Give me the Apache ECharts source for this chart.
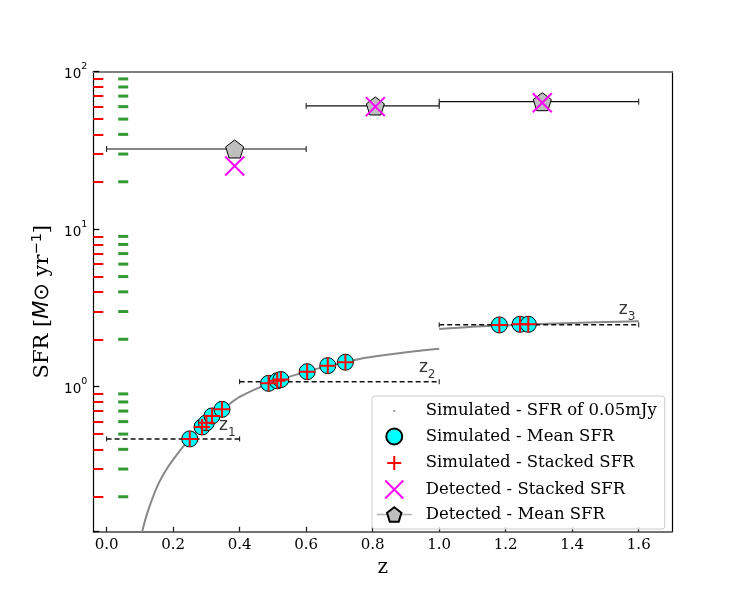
<!DOCTYPE html>
<html>
<head>
<meta charset="utf-8">
<script src="https://cdn.jsdelivr.net/npm/echarts@6/dist/echarts.min.js"></script>
<style>
html,body{margin:0;padding:0;background:#fff;}
#chart{width:747px;height:598px;}
</style>
</head>
<body>
<div id="chart"></div>
<script>
// ---- data ----
const simZLow   = [0.107, 0.122, 0.152, 0.182, 0.212, 0.25, 0.29, 0.32, 0.35, 0.40, 0.49, 0.60, 0.67, 0.72, 0.76, 0.85, 0.92, 1.00];
const simSfrLow = [0.12, 0.157, 0.232, 0.303, 0.372, 0.466, 0.56, 0.645, 0.72, 0.86, 1.05, 1.245, 1.36, 1.43, 1.50, 1.60, 1.67, 1.74];
const simZHigh   = [1.00, 1.10, 1.20, 1.30, 1.40, 1.50, 1.60];
const simSfrHigh = [2.32, 2.40, 2.45, 2.50, 2.54, 2.57, 2.60];

const meanZ    = [0.25, 0.287, 0.30, 0.317, 0.347, 0.487, 0.513, 0.524, 0.603, 0.665, 0.718, 1.181, 1.243, 1.268];
const meanSfr  = [0.466, 0.555, 0.59, 0.652, 0.718, 1.05, 1.09, 1.11, 1.245, 1.36, 1.43, 2.466, 2.49, 2.49];
const stackSfr = [0.466, 0.555, 0.59, 0.652, 0.718, 1.05, 1.09, 1.11, 1.245, 1.36, 1.43, 2.466, 2.49, 2.49];

const binLo  = [0.0, 0.4, 1.0];
const binHi  = [0.4, 1.0, 1.6];
const binSfr = [0.466, 1.076, 2.47];
const binNames = ['1', '2', '3'];
const binLabelZ   = [0.363, 0.964, 1.565];
const binLabelSfr = [0.547, 1.276, 2.98];

const detZ       = [0.385, 0.808, 1.31];
const detLo      = [0.0, 0.6, 1.0];
const detHi      = [0.6, 1.0, 1.6];
const detMean    = [32.3, 60.6, 64.5];
const detStacked = [25.2, 60.0, 63.5];

const xTicks = [0.0, 0.2, 0.4, 0.6, 0.8, 1.0, 1.2, 1.4, 1.6];
const yTicks = [1, 10, 100];
const yMinorTicks = [0.2,0.3,0.4,0.5,0.6,0.7,0.8,0.9, 2,3,4,5,6,7,8,9, 20,30,40,50,60,70,80,90];

const legendNames = ['Simulated - SFR of 0.05mJy', 'Simulated - Mean SFR', 'Simulated - Stacked SFR', 'Detected - Stacked SFR', 'Detected - Mean SFR'];

// ---- config ----
const X_MIN = -0.04, X_MAX = 1.70, Y_MIN = 0.12, Y_MAX = 100;
const FONT = 'DejaVu Serif';
const PENTAGON = 'path://M0,-1L0.951,-0.309L0.588,0.809L-0.588,0.809L-0.951,-0.309Z';
const PLUS = 'path://M0,7H14M7,0V14';
const XMARK = 'path://M0,0L14,14M14,0L0,14';

const zip = (a, b) => a.map((v, i) => [v, b[i]]);

function hbarRenderer(dashed, cap, color, width) {
  return function (params, api) {
    const y = api.value(2);
    const p0 = api.coord([api.value(0), y]);
    const p1 = api.coord([api.value(1), y]);
    return {
      type: 'group',
      children: [
        {type: 'line', shape: {x1: p0[0], y1: p0[1], x2: p1[0], y2: p1[1]},
         style: {stroke: color, lineWidth: width, lineDash: dashed ? [5, 3] : null}},
        {type: 'line', shape: {x1: p0[0], y1: p0[1] - cap, x2: p0[0], y2: p0[1] + cap},
         style: {stroke: color, lineWidth: 1}},
        {type: 'line', shape: {x1: p1[0], y1: p1[1] - cap, x2: p1[0], y2: p1[1] + cap},
         style: {stroke: color, lineWidth: 1}}
      ]
    };
  };
}

const chart = echarts.init(document.getElementById('chart'), null, {renderer: 'canvas'});
const option = {
  animation: false,
  backgroundColor: '#ffffff',
  textStyle: {fontFamily: FONT},
  grid: {left: 93.3, top: 71.7, right: 75, bottom: 66.3, containLabel: false},
  legend: {
    orient: 'vertical', left: 372, top: 396,
    padding: [6, 8, 6, 4], itemGap: 6.5, itemWidth: 35, itemHeight: 18,
    backgroundColor: 'rgba(255,255,255,0.8)', borderColor: '#cccccc', borderWidth: 1, borderRadius: 3,
    selectedMode: false,
    textStyle: {fontFamily: FONT, fontSize: 16.5, color: '#000', padding: [0, 0, 0, 9]},
    data: [
      {name: legendNames[0], icon: 'path://M-10,-10M10,10M-1.2,0a1.2,1.2 0 1,0 2.4,0a1.2,1.2 0 1,0 -2.4,0z',
       itemStyle: {color: '#888888', borderWidth: 0}},
      {name: legendNames[1], icon: 'path://M-1,-1M17,17M0,8a8,8 0 1,0 16,0a8,8 0 1,0 -16,0z'},
      {name: legendNames[2], icon: 'path://M-2,-2M16,16M0,7H14M7,0V14'},
      {name: legendNames[3], icon: 'path://M0,0L16,16M16,0L0,16'},
      {name: legendNames[4], lineStyle: {opacity: 1, width: 1.5, color: '#b5b5b5', type: 'solid'}}
    ]
  },
  xAxis: [{
    type: 'value', min: X_MIN, max: X_MAX, position: 'bottom',
    name: 'z', nameLocation: 'middle', nameGap: 24,
    nameTextStyle: {fontFamily: FONT, fontSize: 20, color: '#000'},
    axisLine: {show: true, onZero: false, lineStyle: {color: '#444', width: 1.5}},
    axisTick: {show: true, inside: true, length: 5, customValues: xTicks, lineStyle: {color: '#222', width: 1.3}},
    axisLabel: {show: true, customValues: xTicks, margin: 6, fontFamily: FONT, fontSize: 15, color: '#000',
                formatter: v => v.toFixed(1)},
    splitLine: {show: false}
  }, {
    type: 'value', min: X_MIN, max: X_MAX, position: 'top',
    axisLine: {show: true, onZero: false, lineStyle: {color: '#808080', width: 2}},
    axisTick: {show: false}, axisLabel: {show: false}, splitLine: {show: false}
  }],
  yAxis: [{
    type: 'log', logBase: 10, min: Y_MIN, max: Y_MAX, position: 'left',
    name: 'SFR [{i|M}{o|⊙} yr{s|−1}]', nameLocation: 'middle', nameGap: 38,
    nameTextStyle: {
      fontFamily: FONT, fontSize: 21, color: '#000',
      rich: {
        i: {fontFamily: 'DejaVu Sans', fontStyle: 'italic', fontSize: 21, color: '#000', lineHeight: 25},
        o: {fontFamily: 'DejaVu Sans', fontSize: 21, color: '#000', lineHeight: 25},
        s: {fontFamily: 'DejaVu Sans', fontSize: 14.5, color: '#000', lineHeight: 14, verticalAlign: 'top'}
      }
    },
    axisLine: {show: true, onZero: false, lineStyle: {color: '#000', width: 1.2}},
    axisTick: {show: true, inside: true, length: 6, lineStyle: {color: '#000', width: 1.3}},
    axisLabel: {
      show: true, customValues: yTicks, margin: 6, color: '#000',
      formatter: v => '{b|10}{s|' + Math.round(Math.log10(v)) + '}',
      rich: {
        b: {fontFamily: 'DejaVu Sans', fontSize: 13.5, color: '#000', lineHeight: 20, verticalAlign: 'bottom'},
        s: {fontFamily: 'DejaVu Sans', fontSize: 9.5, color: '#000', lineHeight: 10, verticalAlign: 'top'}
      }
    },
    splitLine: {show: false}, minorTick: {show: false}, minorSplitLine: {show: false}
  }, {
    type: 'log', logBase: 10, min: Y_MIN, max: Y_MAX, position: 'right',
    axisLine: {show: true, onZero: false, lineStyle: {color: '#000', width: 1.2}},
    axisTick: {show: false}, axisLabel: {show: false}, splitLine: {show: false}
  }, {
    // minor ticks of the log axis (debug colours)
    type: 'log', logBase: 10, min: Y_MIN, max: Y_MAX, position: 'left', offset: 0,
    axisLine: {show: false, onZero: false},
    axisTick: {show: true, inside: true, length: 10, customValues: yMinorTicks, lineStyle: {color: 'red', width: 2}},
    axisLabel: {show: false}, splitLine: {show: false}
  }],
  series: [
    {
      name: 'bins', type: 'custom', z: 2, silent: true,
      renderItem: hbarRenderer(true, 2.5, '#111', 1.5),
      data: binLo.map((v, i) => [v, binHi[i], binSfr[i]]),
      encode: {x: [0, 1], y: 2}
    },
    {
      name: legendNames[0], type: 'line', z: 1, silent: true, symbol: 'none', smooth: 0.35,
      lineStyle: {color: '#888888', width: 2}, itemStyle: {color: '#888888'},
      data: zip(simZLow, simSfrLow)
    },
    {
      name: legendNames[0], type: 'line', z: 1, silent: true, symbol: 'none', smooth: 0.35,
      lineStyle: {color: '#888888', width: 2}, itemStyle: {color: '#888888'},
      data: zip(simZHigh, simSfrHigh)
    },
    {
      name: legendNames[1], type: 'scatter', z: 3, silent: true, symbol: 'circle', symbolSize: 16,
      itemStyle: {color: '#00ffff', borderColor: '#000', borderWidth: 1, opacity: 1},
      data: zip(meanZ, meanSfr)
    },
    {
      name: legendNames[2], type: 'scatter', z: 4, silent: true, symbol: PLUS, symbolSize: 16,
      itemStyle: {color: '#ff0000', borderColor: '#ff0000', borderWidth: 2, opacity: 1},
      data: zip(meanZ, stackSfr)
    },
    {
      name: 'detErr', type: 'custom', z: 5, silent: true,
      renderItem: hbarRenderer(false, 3, '#111', 1.2),
      data: detLo.map((v, i) => [v, detHi[i], detMean[i]]),
      encode: {x: [0, 1], y: 2}
    },
    {
      name: legendNames[4], type: 'line', z: 6, silent: true, symbol: PENTAGON, symbolSize: 18,
      showSymbol: true, lineStyle: {opacity: 0, width: 0},
      itemStyle: {color: '#bfbfbf', borderColor: '#000', borderWidth: 1},
      data: zip(detZ, detMean)
    },
    {
      name: legendNames[3], type: 'scatter', z: 7, silent: true, symbol: XMARK, symbolSize: 19,
      itemStyle: {color: '#ff00ff', borderColor: '#ff00ff', borderWidth: 2, opacity: 1},
      data: zip(detZ, detStacked)
    },
    {
      name: 'binLabels', type: 'scatter', z: 8, silent: true, symbolSize: 0,
      data: binLabelZ.map((v, i) => ({value: [v, binLabelSfr[i]], name: binNames[i]})),
      label: {
        show: true, position: 'inside',
        formatter: p => '{z|z}{s|' + p.name + '}',
        rich: {
          z: {fontFamily: 'DejaVu Sans', fontSize: 17, color: '#000', lineHeight: 22, verticalAlign: 'top'},
          s: {fontFamily: 'DejaVu Sans', fontSize: 12, color: '#000', lineHeight: 12, verticalAlign: 'bottom'}
        }
      }
    },
    {
      name: 'dbg', type: 'scatter', z: 9, silent: true, clip: false, symbol: 'rect', symbolSize: [10, 3],
      itemStyle: {color: 'green'},
      data: yMinorTicks.map(v => [0.05, v])
    }
  ]
};
chart.setOption(option);
</script>
</body>
</html>
